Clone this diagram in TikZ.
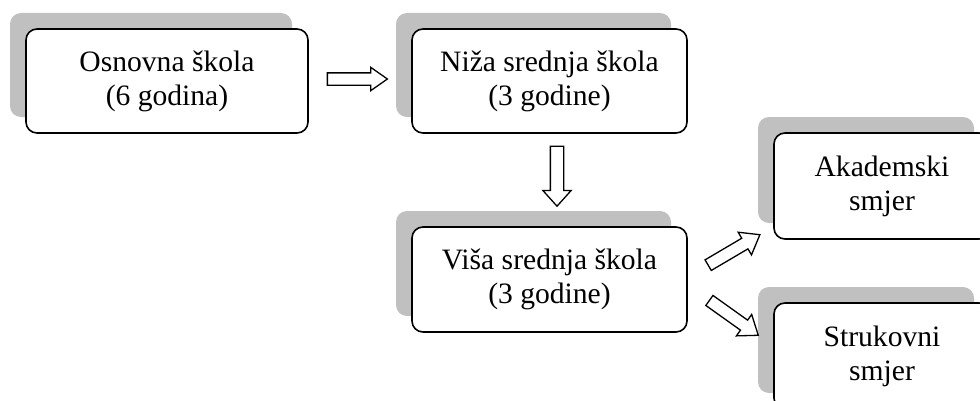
\documentclass[tikz,border=0pt]{standalone}
\usepackage{fontspec}
\setmainfont{Liberation Serif}
\usetikzlibrary{shapes.arrows,shadows}
\definecolor{shadowgray}{RGB}{192,192,192}
\begin{document}
\begin{tikzpicture}[x=1pt,y=1pt,
  stagebox/.style={draw=black, line width=1.6pt, rounded corners=11pt, fill=white,
    align=center, inner sep=0pt, font=\fontsize{29.6}{34}\selectfont,
    general shadow={fill=shadowgray, draw=none, shadow xshift=-16pt, shadow yshift=16pt}},
  blockarrow/.style={single arrow, draw=black, line width=1.3pt, fill=white,
    inner xsep=0pt, inner ysep=5.5pt, minimum height=60pt,
    single arrow head extend=7pt, single arrow tip angle=74, single arrow head indent=0pt}]
\useasboundingbox (0,0) rectangle (980,400);
\clip (0,0) rectangle (980,400);
\fill[white] (0,0) rectangle (980,400);
\node[stagebox, minimum width=282pt, minimum height=104pt] (osn) at (167,319) {Osnovna škola\\(6 godina)};
\node[stagebox, minimum width=275pt, minimum height=104pt] (niza) at (549.5,319) {Niža srednja škola\\(3 godine)};
\node[stagebox, minimum width=275pt, minimum height=105pt] (visa) at (549.5,120.5) {Viša srednja škola\\(3 godine)};
\node[stagebox, minimum width=216pt, minimum height=106pt] (akad) at (882,214) {Akademski\\smjer};
\node[stagebox, minimum width=216pt, minimum height=106pt] (stru) at (882,44) {Strukovni\\smjer};
\node[blockarrow, single arrow head extend=5.5pt, single arrow tip angle=70] (a1) at (353,321) {};
\node[blockarrow, rotate=-90, inner ysep=6pt, single arrow head extend=7.5pt, single arrow tip angle=84] (a2) at (557,227.5) {};
\node[blockarrow, rotate=30.5] (a3) at (730.5,148) {};
\node[blockarrow, rotate=-35.5] (a4) at (730.5,84.5) {};
\end{tikzpicture}
\end{document}
